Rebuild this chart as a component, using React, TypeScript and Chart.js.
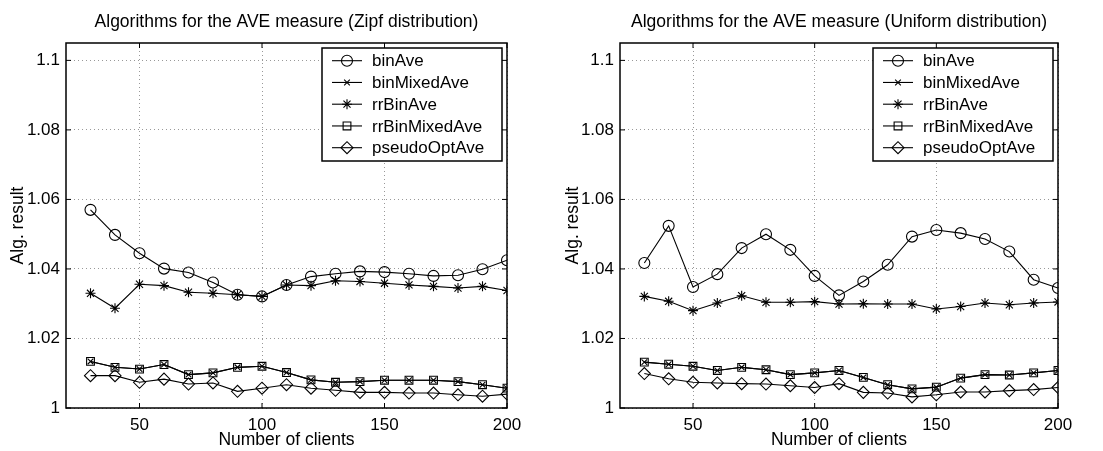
import React, { useEffect, useRef } from 'react';
import { Chart, registerables } from 'chart.js';
import { drawPoint } from 'chart.js/helpers';

Chart.register(...registerables);

// ---------- data ----------
const clients = [30, 40, 50, 60, 70, 80, 90, 100, 110, 120, 130, 140, 150, 160, 170, 180, 190, 200];
const seriesNames = ['binAve', 'binMixedAve', 'rrBinAve', 'rrBinMixedAve', 'pseudoOptAve'];
const pointStyles = ['circle', 'crossRot', 'star', 'rect', 'rectRot'];
const xTickValues = [50, 100, 150, 200];
const yTickValues = [1, 1.02, 1.04, 1.06, 1.08, 1.1];

const zipfTitle = 'Algorithms for the AVE measure (Zipf distribution)';
const uniformTitle = 'Algorithms for the AVE measure (Uniform distribution)';
const xTitle = 'Number of clients';
const yTitle = 'Alg. result';

const zipfBinAve = [1.057, 1.0498, 1.0445, 1.0401, 1.039, 1.0361, 1.0326, 1.0321, 1.0354, 1.0378, 1.0386, 1.0393, 1.0391, 1.0386, 1.038, 1.0382, 1.0399, 1.0425];
const zipfBinMixedAve = [1.0134, 1.0117, 1.0112, 1.0125, 1.0096, 1.0101, 1.0117, 1.012, 1.0102, 1.0081, 1.0074, 1.0076, 1.008, 1.008, 1.008, 1.0076, 1.0067, 1.0057];
const zipfRrBinAve = [1.033, 1.0287, 1.0356, 1.0352, 1.0333, 1.033, 1.0326, 1.0321, 1.0354, 1.0352, 1.0366, 1.0364, 1.0359, 1.0354, 1.035, 1.0345, 1.035, 1.0338];
const zipfRrBinMixedAve = [1.0134, 1.0117, 1.0112, 1.0125, 1.0096, 1.0101, 1.0117, 1.012, 1.0102, 1.0081, 1.0074, 1.0076, 1.008, 1.008, 1.008, 1.0076, 1.0067, 1.0057];
const zipfPseudoOptAve = [1.0093, 1.0093, 1.0074, 1.0083, 1.0069, 1.0072, 1.0048, 1.0057, 1.0067, 1.0057, 1.0051, 1.0045, 1.0045, 1.0043, 1.0043, 1.0038, 1.0034, 1.004];

const uniformBinAve = [1.0417, 1.0524, 1.0348, 1.0385, 1.046, 1.05, 1.0455, 1.038, 1.0324, 1.0364, 1.0412, 1.0493, 1.0512, 1.0503, 1.0486, 1.045, 1.0369, 1.0345];
const uniformBinMixedAve = [1.0132, 1.0126, 1.012, 1.0108, 1.0117, 1.011, 1.0096, 1.0101, 1.0108, 1.0088, 1.0067, 1.0055, 1.006, 1.0086, 1.0096, 1.0095, 1.0101, 1.0108];
const uniformRrBinAve = [1.0321, 1.0307, 1.028, 1.0302, 1.0323, 1.0304, 1.0304, 1.0306, 1.0299, 1.03, 1.0299, 1.0299, 1.0285, 1.0292, 1.0302, 1.0297, 1.0302, 1.0305];
const uniformRrBinMixedAve = [1.0132, 1.0126, 1.012, 1.0108, 1.0117, 1.011, 1.0096, 1.0101, 1.0108, 1.0088, 1.0067, 1.0055, 1.006, 1.0086, 1.0096, 1.0095, 1.0101, 1.0108];
const uniformPseudoOptAve = [1.0099, 1.0084, 1.0074, 1.0072, 1.007, 1.0069, 1.0064, 1.0059, 1.007, 1.0045, 1.0043, 1.0032, 1.0038, 1.0046, 1.0046, 1.005, 1.0053, 1.0059];

// ---------- styling ----------
const FONT = 'Liberation Sans, Arial, Helvetica, sans-serif';
const pointRadii = [5.5, 4, 5, 5.5, 6];

const framePlugin = {
  id: 'matlabFrame',
  afterDatasetsDraw(chart: any) {
    const { ctx, chartArea: a, scales } = chart;
    ctx.save();
    ctx.strokeStyle = '#000';
    ctx.lineWidth = 1.5;
    ctx.strokeRect(a.left, a.top, a.right - a.left, a.bottom - a.top);
    ctx.lineWidth = 1;
    ctx.beginPath();
    const tl = 5;
    scales.x.ticks.forEach((t: any) => {
      const x = scales.x.getPixelForValue(t.value);
      ctx.moveTo(x, a.bottom); ctx.lineTo(x, a.bottom - tl);
      ctx.moveTo(x, a.top); ctx.lineTo(x, a.top + tl);
    });
    scales.y.ticks.forEach((t: any) => {
      const y = scales.y.getPixelForValue(t.value);
      ctx.moveTo(a.left, y); ctx.lineTo(a.left + tl, y);
      ctx.moveTo(a.right, y); ctx.lineTo(a.right - tl, y);
    });
    ctx.stroke();
    ctx.restore();
  },
  afterDraw(chart: any) {
    const { ctx, chartArea: a } = chart;
    const title = chart.options.plugins.matlabFrame.title;
    ctx.save();
    // title centred over the axes
    ctx.fillStyle = '#000';
    ctx.font = `17.5px ${FONT}`;
    ctx.textAlign = 'center';
    ctx.textBaseline = 'middle';
    ctx.fillText(title, (a.left + a.right) / 2, 22);

    // legend box
    const w = 180, h = 113;
    const bx = a.right - 5 - w;
    const by = a.top + 5;
    ctx.fillStyle = '#fff';
    ctx.fillRect(bx, by, w, h);
    ctx.strokeStyle = '#000';
    ctx.lineWidth = 1.5;
    ctx.strokeRect(bx, by, w, h);
    ctx.font = `17px ${FONT}`;
    ctx.textAlign = 'left';
    chart.data.datasets.forEach((ds: any, i: number) => {
      const y = by + 12.7 + i * 21.75;
      ctx.strokeStyle = '#000';
      ctx.lineWidth = 1.1;
      ctx.beginPath();
      ctx.moveTo(bx + 10, y);
      ctx.lineTo(bx + 40, y);
      ctx.stroke();
      ctx.fillStyle = 'rgba(0,0,0,0)';
      ctx.strokeStyle = '#000';
      ctx.lineWidth = 1.1;
      drawPoint(ctx, {
        pointStyle: ds.pointStyle,
        radius: ds.pointRadius,
        rotation: 0,
        borderWidth: 1.1,
      } as any, bx + 25, y);
      ctx.fillStyle = '#000';
      ctx.fillText(ds.label, bx + 50, y + 1);
    });
    ctx.restore();
  },
};

function makeConfig(title: string, series: number[][], yAxisWidth: number, rightPad: number, yTitlePad: number): any {
  return {
    type: 'line',
    data: {
      datasets: series.map((vals, i) => ({
        label: seriesNames[i],
        data: clients.map((c, j) => ({ x: c, y: vals[j] })),
        borderColor: '#000',
        borderWidth: 1.1,
        pointStyle: pointStyles[i],
        pointRadius: pointRadii[i],
        pointBorderColor: '#000',
        pointBackgroundColor: 'rgba(0,0,0,0)',
        pointBorderWidth: 1.1,
        fill: false,
        tension: 0,
      })),
    },
    options: {
      responsive: false,
      animation: false,
      events: [],
      layout: { padding: { top: 43, right: rightPad, bottom: 0, left: 0 } },
      plugins: {
        legend: { display: false },
        title: { display: false },
        tooltip: { enabled: false },
        matlabFrame: { title },
      },
      scales: {
        x: {
          type: 'linear',
          min: 20,
          max: 200,
          afterBuildTicks: (s: any) => { s.ticks = xTickValues.map((v) => ({ value: v })); },
          afterFit: (s: any) => { s.height = 43; },
          ticks: { color: '#000', font: { size: 17, family: FONT }, padding: 7, maxRotation: 0, callback: (v: any) => String(v) },
          grid: { color: '#999', lineWidth: 1, drawTicks: false },
          border: { display: false, dash: [1, 3] },
          title: { display: true, text: xTitle, color: '#000', font: { size: 17.5, family: FONT }, padding: { top: 0, bottom: 0 } },
        },
        y: {
          type: 'linear',
          min: 1,
          max: 1.105,
          afterBuildTicks: (s: any) => { s.ticks = yTickValues.map((v) => ({ value: v })); },
          afterFit: (s: any) => { s.width = yAxisWidth; },
          ticks: { color: '#000', font: { size: 17, family: FONT }, padding: 6, callback: (v: any) => String(Math.round(v * 100) / 100) },
          grid: { color: '#999', lineWidth: 1, drawTicks: false },
          border: { display: false, dash: [1, 3] },
          title: { display: true, text: yTitle, color: '#000', font: { size: 17.5, family: FONT }, padding: { top: yTitlePad, bottom: 0 } },
        },
      },
    },
    plugins: [framePlugin],
  };
}

function Panel(props: { left: number; width: number; title: string; series: number[][]; yAxisWidth: number; rightPad: number; yTitlePad: number }) {
  const ref = useRef<HTMLCanvasElement>(null);
  useEffect(() => {
    const chart = new Chart(ref.current as HTMLCanvasElement, makeConfig(props.title, props.series, props.yAxisWidth, props.rightPad, props.yTitlePad));
    return () => chart.destroy();
  }, []);
  return (
    <div style={{ position: 'absolute', left: props.left, top: 0, width: props.width, height: 451 }}>
      <canvas ref={ref} width={props.width} height={451} style={{ width: props.width, height: 451, display: 'block' }} />
    </div>
  );
}

export default function App() {
  return (
    <div style={{ position: 'fixed', left: 0, top: 0, width: 1103, height: 451, background: '#fff' }}>
      <Panel left={0} width={550} title={zipfTitle} yAxisWidth={66} rightPad={43} yTitlePad={8}
        series={[zipfBinAve, zipfBinMixedAve, zipfRrBinAve, zipfRrBinMixedAve, zipfPseudoOptAve]} />
      <Panel left={550} width={553} title={uniformTitle} yAxisWidth={70} rightPad={45} yTitlePad={13}
        series={[uniformBinAve, uniformBinMixedAve, uniformRrBinAve, uniformRrBinMixedAve, uniformPseudoOptAve]} />
    </div>
  );
}
